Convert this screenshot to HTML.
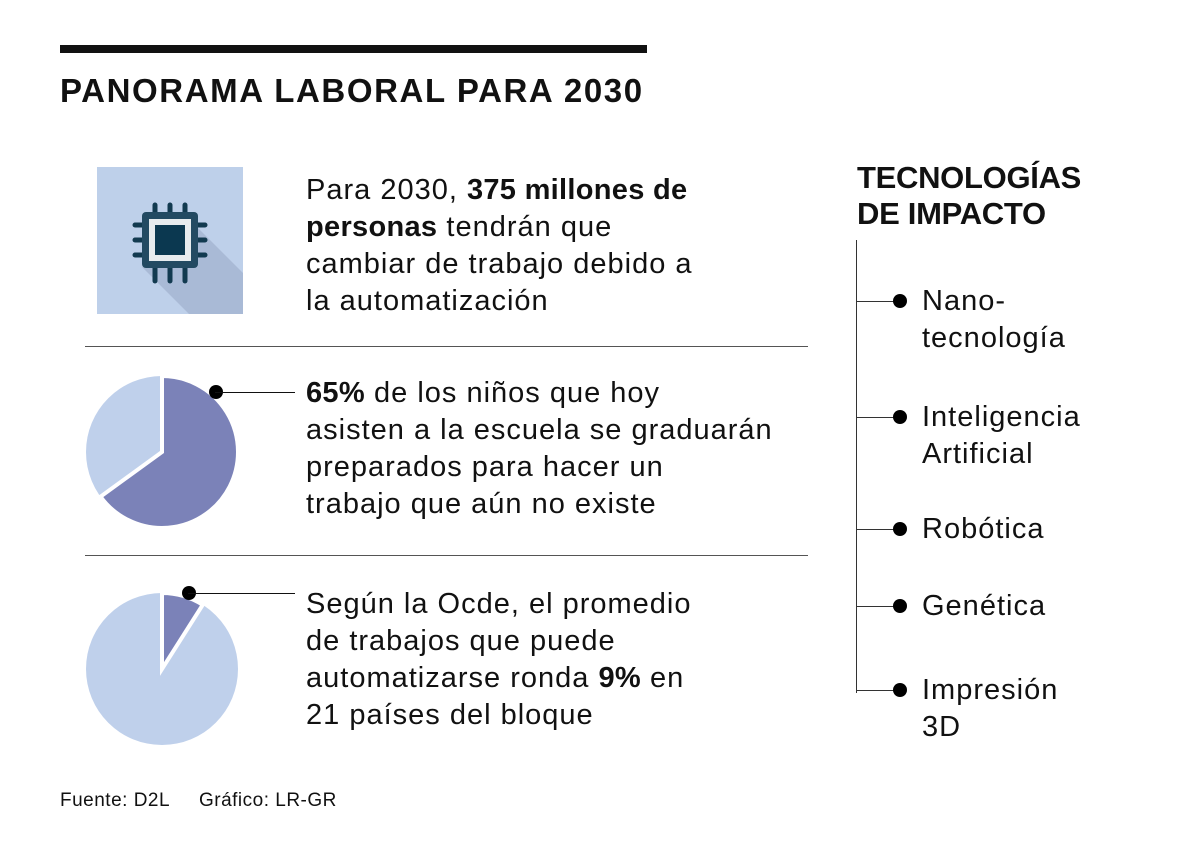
<!DOCTYPE html>
<html><head><meta charset="utf-8"><style>
body{margin:0;width:1200px;height:857px;background:#fff;font-family:"Liberation Sans",sans-serif;color:#111;position:relative;overflow:hidden}
.a{position:absolute}
.t{font-size:29px;line-height:37px;font-weight:normal;letter-spacing:1px}
b{font-weight:bold;letter-spacing:0.3px}
</style></head><body>
<div class="a" style="left:60px;top:45px;width:587px;height:8px;background:#111"></div>
<div class="a" style="left:60px;top:72px;font-size:33px;font-weight:bold;letter-spacing:1.6px">PANORAMA LABORAL PARA 2030</div>

<svg class="a" style="left:97px;top:167px" width="146" height="147">
<rect width="146" height="147" fill="#bed0ea"/>
<polygon points="100,60 146,106 146,147 92,147 45,100" fill="#a9bad6"/>
<g stroke="#123a50" stroke-width="5" stroke-linecap="round">
<line x1="58" y1="38" x2="58" y2="52"/><line x1="73" y1="38" x2="73" y2="52"/><line x1="88" y1="38" x2="88" y2="52"/>
<line x1="58" y1="100" x2="58" y2="114"/><line x1="73" y1="100" x2="73" y2="114"/><line x1="88" y1="100" x2="88" y2="114"/>
<line x1="38" y1="58" x2="52" y2="58"/><line x1="38" y1="73" x2="52" y2="73"/><line x1="38" y1="88" x2="52" y2="88"/>
<line x1="94" y1="58" x2="108" y2="58"/><line x1="94" y1="73" x2="108" y2="73"/><line x1="94" y1="88" x2="108" y2="88"/>
</g>
<rect x="45" y="45" width="56" height="56" rx="4" fill="#234a62"/>
<rect x="52" y="52" width="42" height="42" fill="#e6ebee"/>
<rect x="58" y="58" width="30" height="30" fill="#0b3850"/>
</svg>
<div class="a t" style="left:306px;top:172px">Para 2030, <b>375 millones de<br>personas</b> tendrán que<br>cambiar de trabajo debido a<br>la automatización</div>
<div class="a" style="left:85px;top:346px;width:723px;height:1px;background:#555"></div>

<svg class="a" id="pies" style="left:0;top:0" width="800" height="857"></svg>
<div class="a" style="left:215px;top:392px;width:80px;height:1px;background:#111"></div>
<div class="a t" style="left:306px;top:375px"><b>65%</b> de los niños que hoy<br>asisten a la escuela se graduarán<br>preparados para hacer un<br>trabajo que aún no existe</div>
<div class="a" style="left:85px;top:555px;width:723px;height:1px;background:#555"></div>
<div class="a" style="left:188px;top:593px;width:107px;height:1px;background:#111"></div>
<div class="a t" style="left:306px;top:586px">Según la Ocde, el promedio<br>de trabajos que puede<br>automatizarse ronda <b>9%</b> en<br>21 países del bloque</div>

<div class="a" style="left:857px;top:160px;font-size:31px;line-height:36px;font-weight:bold;letter-spacing:-0.3px">TECNOLOGÍAS<br>DE IMPACTO</div>
<div class="a" style="left:856px;top:240px;width:1px;height:453px;background:#333"></div>
<div id="list"></div>

<div class="a" style="left:60px;top:790px;font-size:19px;letter-spacing:0.5px">Fuente: D2L&nbsp;&nbsp;&nbsp;&nbsp;&nbsp;Gráfico: LR-GR</div>
<script>
const pieShares=[65,9];
const pieCenters=[[162,452],[162,669]];
const items=["Nano-<br>tecnología","Inteligencia<br>Artificial","Robótica","Genética","Impresión<br>3D"];
const itemY=[301,417,529,606,690];
const svg=document.getElementById('pies');
const NS='http://www.w3.org/2000/svg';
function pt(cx,cy,r,f){const a=f*2*Math.PI;return [cx+r*Math.sin(a),cy-r*Math.cos(a)];}
pieShares.forEach((v,i)=>{
 const [cx,cy]=pieCenters[i],r=76,f=v/100;
 const bg=document.createElementNS(NS,'circle');
 bg.setAttribute('cx',cx);bg.setAttribute('cy',cy);bg.setAttribute('r',r);bg.setAttribute('fill','#bfd0eb');
 
 
 svg.appendChild(bg);
 const p=pt(cx,cy,r,f);
 const s=document.createElementNS(NS,'path');
 s.setAttribute('d',`M${cx},${cy}L${cx},${cy-r}A${r},${r} 0 ${f>0.5?1:0} 1 ${p[0]},${p[1]}Z`);
 s.setAttribute('fill','#7b82b8');s.setAttribute('stroke','#fff');s.setAttribute('stroke-width','4');
 
 
 svg.appendChild(s);
 const dot=document.createElementNS(NS,'circle');
 dot.setAttribute('cx',i==0?216:189);dot.setAttribute('cy',i==0?392:593);dot.setAttribute('r',7);dot.setAttribute('fill','#000');
 
 
 svg.appendChild(dot);
});
const list=document.getElementById('list');
items.forEach((t,i)=>{
 const y=itemY[i];
 const h=document.createElement('div');h.className='a';
 h.style.cssText=`left:857px;top:${y}px;width:43px;height:1px;background:#333`;
 
 
 list.appendChild(h);
 const d=document.createElement('div');d.className='a';
 d.style.cssText=`left:893px;top:${y-7}px;width:14px;height:14px;border-radius:50%;background:#000`;
 
 
 list.appendChild(d);
 const l=document.createElement('div');l.className='a t';
 l.style.cssText=`left:922px;top:${y-18}px`;
 l.innerHTML=t;
 
 
 list.appendChild(l);
});
</script>
</body></html>
